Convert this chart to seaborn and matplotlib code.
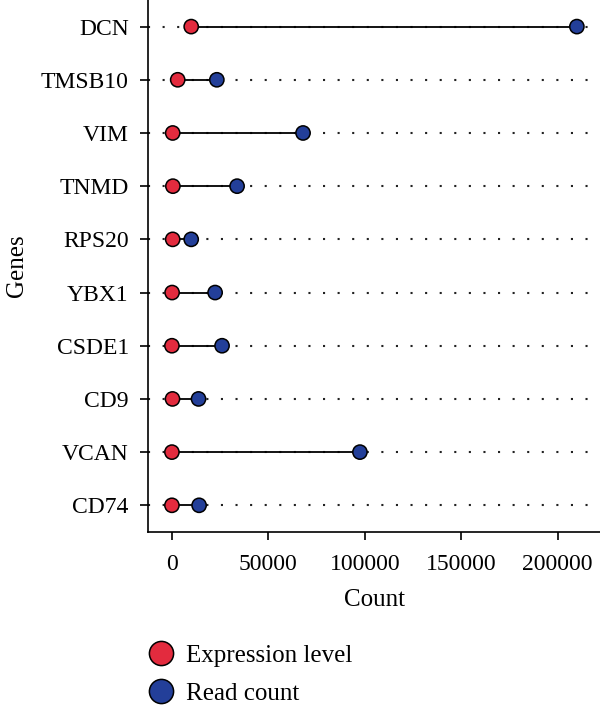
import matplotlib.pyplot as plt
import pandas as pd
import seaborn as sns

# Data
genes = ["DCN", "TMSB10", "VIM", "TNMD", "RPS20", "YBX1", "CSDE1", "CD9", "VCAN", "CD74"]
expression_level = [10000, 3000, 400, 500, 400, 100, 0, 300, 0, 0]
read_count = [210000, 23300, 68000, 33800, 10000, 22400, 26000, 13800, 97500, 14100]

df = pd.DataFrame({"Genes": genes,
                   "Expression level": expression_level,
                   "Read count": read_count})
df_long = df.melt(id_vars="Genes", var_name="Type", value_name="Count")

sns.set_theme(style="white")
plt.rcParams["font.family"] = ["Liberation Serif", "DejaVu Serif"]
plt.rcParams["text.color"] = "black"

fig = plt.figure(figsize=(6, 7.13), dpi=100)
ax = fig.add_axes([0.247, 0.254, 0.753, 0.746])

# dotted guide lines and the connecting segments
ax.grid(True, axis="y", color="#222222", linestyle=(0, (1, 6)), linewidth=1.5)
ax.grid(False, axis="x")
ax.hlines(df["Genes"], df["Expression level"], df["Read count"],
          color="black", linewidth=1.3, zorder=2)

sns.scatterplot(data=df_long, x="Count", y="Genes", hue="Type",
                palette={"Expression level": "#E32B3E", "Read count": "#233F99"},
                s=105, edgecolor="black", linewidth=1.1, zorder=3, ax=ax)

ax.set_ylim(9.5, -0.5)
ax.set_xlim(-12300, 222000)
ax.set_xticks([0, 50000, 100000, 150000, 200000])
ax.tick_params(axis="both", labelsize=17, length=6, width=1.2, color="black",
               direction="out", bottom=True, left=True, colors="black")
ax.tick_params(axis="y", pad=8)
ax.tick_params(axis="x", pad=10)
ax.set_xlabel("Count", fontsize=18, color="black", labelpad=10)
ax.set_ylabel("Genes", fontsize=18, color="black")
ax.yaxis.set_label_coords(-0.265, 0.5)

for side in ["top", "right"]:
    ax.spines[side].set_visible(False)
for side in ["left", "bottom"]:
    ax.spines[side].set_color("black")
    ax.spines[side].set_linewidth(1.2)

handles, labels = ax.get_legend_handles_labels()
ax.legend_.remove()
fig.legend(handles, labels, loc="upper left", bbox_to_anchor=(0.21, 0.11),
           frameon=False, fontsize=18, markerscale=1.7, handletextpad=0.0,
           labelspacing=0.6, borderaxespad=0, labelcolor="black")

plt.savefig("out.png", dpi=100)
